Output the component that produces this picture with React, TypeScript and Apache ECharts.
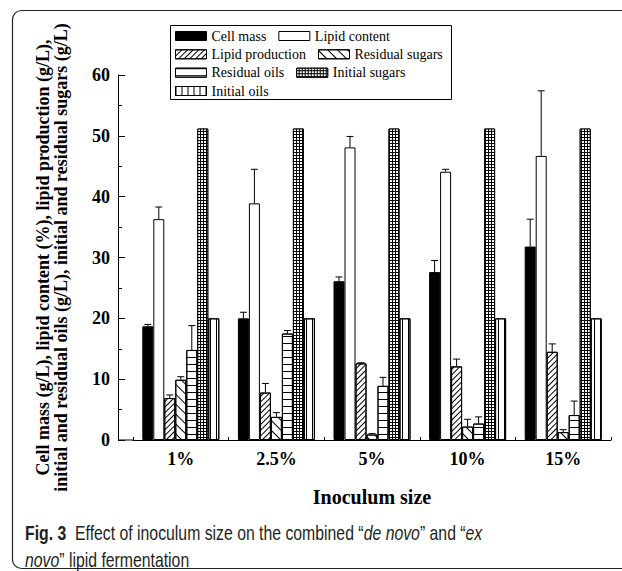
import React, { useEffect, useRef } from "react";
import * as echarts from "echarts";

const categories = ["1%", "2.5%", "5%", "10%", "15%"];
const seriesNames = [
  "Cell mass",
  "Lipid content",
  "Lipid production",
  "Residual sugars",
  "Residual oils",
  "Initial sugars",
  "Initial oils",
];
const cellMass = [18.7, 20.0, 26.1, 27.6, 31.8];
const cellMassErr = [0.3, 1.0, 0.7, 1.9, 4.5];
const lipidContent = [36.3, 38.9, 48.1, 44.1, 46.7];
const lipidContentErr = [2.0, 5.6, 1.8, 0.4, 10.7];
const lipidProduction = [6.9, 7.8, 12.6, 12.1, 14.5];
const lipidProductionErr = [0.5, 1.5, 0.1, 1.2, 1.3];
const residualSugars = [9.9, 3.8, 0.9, 2.2, 1.3];
const residualSugarsErr = [0.5, 0.7, 0.15, 1.2, 0.4];
const residualOils = [14.8, 17.5, 8.9, 2.7, 4.1];
const residualOilsErr = [4.0, 0.5, 1.4, 1.1, 2.3];
const initialSugars = [51.2, 51.2, 51.2, 51.2, 51.2];
const initialOils = [20.0, 20.0, 20.0, 20.0, 20.0];
const yTicks = { min: 0, max: 60, interval: 10 };

const SERIF = "'Liberation Serif', 'Times New Roman', serif";
const SANS = "'Liberation Sans', Arial, sans-serif";
const BAR_W = 11;

const values = [cellMass, lipidContent, lipidProduction, residualSugars, residualOils, initialSugars, initialOils];
const errors = [cellMassErr, lipidContentErr, lipidProductionErr, residualSugarsErr, residualOilsErr, null, null];

const styles: any[] = [
  { color: "#000" },
  { color: "#fff" },
  { color: "#fff", decal: { symbol: "rect", symbolSize: 1, color: "#000", dashArrayX: [1, 0], dashArrayY: [1, 2.5], rotation: -Math.PI / 4 } },
  { color: "#fff", decal: { symbol: "rect", symbolSize: 1, color: "#000", dashArrayX: [1, 0], dashArrayY: [1, 6], rotation: Math.PI / 4 } },
  { color: "#fff", decal: { symbol: "rect", symbolSize: 1, color: "#000", dashArrayX: [1, 0], dashArrayY: [1, 6] } },
  { color: "#000", decal: { symbol: "rect", symbolSize: 1, color: "#fff", dashArrayX: [2, 1], dashArrayY: [2, 1] } },
  { color: "#fff", decal: { symbol: "rect", symbolSize: 1, color: "#000", dashArrayX: [1, 5], dashArrayY: [1, 0] } },
];

const legendRows = [
  ["Cell mass", "Lipid content"],
  ["Lipid production", "Residual sugars"],
  ["Residual oils", "Initial sugars"],
  ["Initial oils"],
];
const legendTops = [29, 47.3, 65.7, 84];

export default function App() {
  const ref = useRef<HTMLDivElement>(null);
  useEffect(() => {
    const chart = echarts.init(ref.current!, null, { renderer: "svg" });

    const barSeries = seriesNames.map((name, i) => ({
      name,
      type: "bar",
      data: values[i],
      barWidth: BAR_W,
      barGap: "0%",
      itemStyle: { ...styles[i], borderColor: "#000", borderWidth: 1 },
      emphasis: { disabled: true },
      z: 2,
    }));

    const errData: number[][] = [];
    errors.forEach((arr, k) => {
      if (!arr) return;
      arr.forEach((e, c) => errData.push([c, values[k][c], e, k]));
    });

    const errSeries = {
      type: "custom",
      name: "errors",
      silent: true,
      z: 5,
      encode: { x: 0, y: 1 },
      data: errData,
      renderItem: (params: any, api: any) => {
        const c = api.value(0);
        const v = api.value(1);
        const e = api.value(2);
        const k = api.value(3);
        const base = api.coord([c, v]);
        const top = api.coord([c, v + e]);
        const x = base[0] + (k - 3) * BAR_W;
        return {
          type: "group",
          children: [
            { type: "line", shape: { x1: x, y1: base[1], x2: x, y2: top[1] }, style: { stroke: "#000", lineWidth: 1 } },
            { type: "line", shape: { x1: x - 3.5, y1: top[1], x2: x + 3.5, y2: top[1] }, style: { stroke: "#000", lineWidth: 1 } },
          ],
        };
      },
    };

    const legends = legendRows.map((row, r) => ({
      data: row.map((n) => ({ name: n, icon: "rect" })),
      left: 175,
      top: legendTops[r],
      orient: "horizontal",
      padding: 0,
      itemWidth: 31,
      itemHeight: 9,
      itemGap: 12,
      selectedMode: false,
      itemStyle: { borderColor: "#000", borderWidth: 1 },
      textStyle: { fontFamily: SERIF, fontSize: 14, color: "#000", lineHeight: 14 },
    }));

    chart.setOption({
      animation: false,
      backgroundColor: "#fff",
      grid: { left: 133, right: 11, top: 75, bottom: 131, containLabel: false },
      legend: legends,
      xAxis: {
        type: "category",
        data: categories,
        name: "Inoculum size",
        nameLocation: "middle",
        nameGap: 47,
        nameTextStyle: { fontFamily: SERIF, fontSize: 20, fontWeight: "bold", color: "#000" },
        axisLine: { lineStyle: { color: "#000", width: 1 } },
        axisTick: { show: true, inside: true, length: 3, lineStyle: { color: "#000" } },
        axisLabel: { fontFamily: SERIF, fontSize: 18, fontWeight: "bold", color: "#000", margin: 10 },
      },
      yAxis: {
        type: "value",
        min: yTicks.min,
        max: yTicks.max,
        interval: yTicks.interval,
        offset: 15,
        name: "Cell mass (g/L), lipid content (%), lipid production (g/L),\ninitial and residual oils (g/L), initial and residual sugars (g/L)",
        nameLocation: "middle",
        nameRotate: 90,
        nameGap: 48,
        nameTextStyle: { fontFamily: SERIF, fontSize: 18, fontWeight: "bold", color: "#000", lineHeight: 18 },
        axisLine: { show: true, lineStyle: { color: "#000", width: 1 } },
        axisTick: { show: true, inside: true, length: 7, lineStyle: { color: "#000" } },
        minorTick: { show: true, splitNumber: 2, length: 4, lineStyle: { color: "#000" } },
        splitLine: { show: false },
        axisLabel: { fontFamily: SERIF, fontSize: 18, fontWeight: "bold", color: "#000", margin: 8 },
      },
      series: [...barSeries, errSeries],
      graphic: [
        {
          type: "rect",
          shape: { x: 12.5, y: 10.5, width: 700, height: 558, r: 9 },
          style: { fill: "none", stroke: "#222", lineWidth: 1.2 },
          silent: true,
        },
        {
          type: "rect",
          shape: { x: 170.5, y: 25.5, width: 281, height: 74 },
          style: { fill: "none", stroke: "#000", lineWidth: 1 },
          silent: true,
        },
        {
          type: "line",
          shape: { x1: 118, y1: 440, x2: 133, y2: 440 },
          style: { stroke: "#000", lineWidth: 1 },
          silent: true,
        },
        {
          type: "text",
          x: 25,
          y: 520,
          scaleX: 0.79,
          scaleY: 1,
          style: {
            x: 0,
            y: 0,
            verticalAlign: "top",
            align: "left",
            text: "{b|Fig. 3}  Effect of inoculum size on the combined “{i|de novo}” and “{i|ex}\n{i|novo}” lipid fermentation",
            font: `20px ${SANS}`,
            fill: "#231f20",
            lineHeight: 27,
            rich: {
              b: { fontWeight: "bold", fontFamily: SANS, fontSize: 20, fill: "#231f20", lineHeight: 27 },
              i: { fontStyle: "italic", fontFamily: SANS, fontSize: 20, fill: "#231f20", lineHeight: 27 },
            },
          },
          silent: true,
        },
      ],
    });
    return () => chart.dispose();
  }, []);
  return (
    <div
      ref={ref}
      style={{ position: "fixed", left: 0, top: 0, width: 622, height: 571, background: "#fff" }}
    />
  );
}
